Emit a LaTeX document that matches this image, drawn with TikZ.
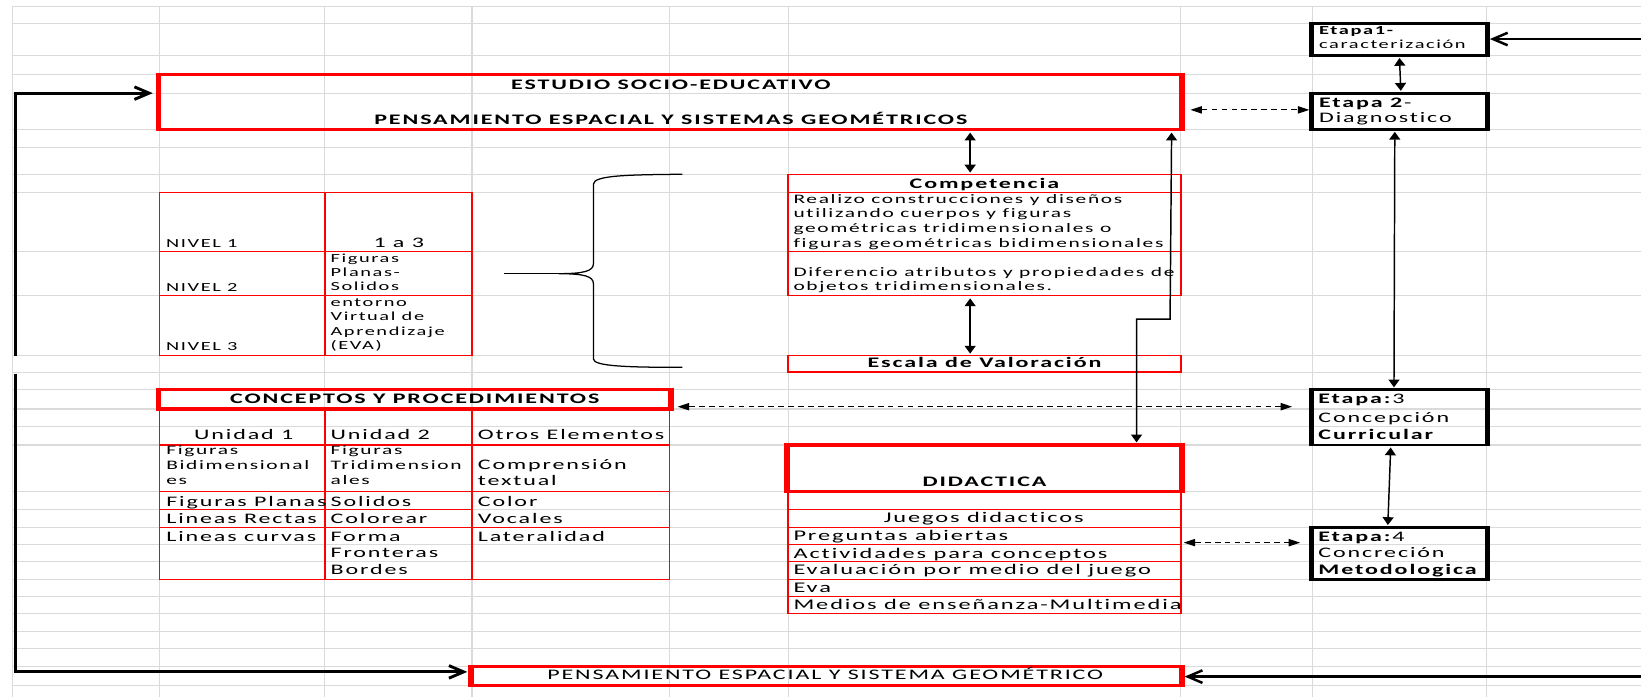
\documentclass[tikz,border=0pt]{standalone}
\usepackage{fontspec}
\setmainfont{Carlito}[FakeStretch=1.65,LetterSpace=13,Ligatures=NoCommon]
\usetikzlibrary{arrows.meta,fit,calc}
\definecolor{sheetgrid}{RGB}{218,218,218}
\definecolor{cellred}{RGB}{255,0,0}

\tikzset{
  gridline/.style={draw=sheetgrid,line width=1pt},
  redthick/.style={draw=cellred,line width=3pt,inner sep=0pt},
  redthin/.style={draw=cellred,line width=1.2pt,inner sep=0pt},
  redrule/.style={draw=cellred,line width=1.2pt},
  stagebox/.style={draw=black,line width=2.7pt,inner sep=0pt},
  lbl/.style={inner sep=0pt,anchor=base west,font=\fontsize{13.9}{16}\selectfont},
  lblc/.style={lbl,anchor=base},
  head/.style={lblc,font=\fontsize{13.9}{16}\selectfont\bfseries},
  comp/.style={lbl,font=\fontsize{12.4}{14}\selectfont},
  lvl/.style={lbl,font=\fontsize{11.8}{14}\selectfont},
  item/.style={lbl,font=\fontsize{14.1}{17}\selectfont},
  biarrow/.style={{Triangle[length=7.5pt,width=10.5pt]}-{Triangle[length=7.5pt,width=10.5pt]},
    line width=1.4pt,shorten <=1pt,shorten >=1pt},
  dasharrow/.style={{Triangle[length=11pt,width=7pt]}-{Triangle[length=11pt,width=7pt]},
    line width=1.1pt,dash pattern=on 5.5pt off 4pt},
  heavyarrow/.style={-{Straight Barb[length=14pt,width=12pt]},line width=2.8pt},
  bracepen/.style={line width=1.2pt}
}

\begin{document}
\begin{tikzpicture}[x=1pt,y=-1pt]
\useasboundingbox (0,0) rectangle (1568,666);

% spreadsheet grid
\foreach \gx in {12,152.5,310.5,451,640,753,1128.4,1254,1420.7}
  \draw[gridline] (\gx,6) -- (\gx,666);
\foreach \gy in {6,22.7,53,70.8,89.1,123.6,140.6,166.5,183.7,240,282,339.5,355.5,
                 372.5,390.8,407.8,425.2,469.5,486.5,504,520.2,536.6,553.7,570,586,
                 603,620,637,654.6}
  \draw[gridline] (12,\gy) -- (1568,\gy);

% ---------- main red boxes ----------
\node[redthick,fit={(152.5,70.8) (1128.4,123.6)}] (estudio) {};
\node[redthick,fit={(152.5,372.5) (640,390.8)}] (conceptos) {};
\node[redthick,fit={(753,425.2) (1128.4,469.5)}] (didactica) {};
\node[redthick,fit={(451,637) (1128.4,654.6)}] (cierre) {};
\foreach \bx in {estudio,conceptos,didactica,cierre}
  \draw[draw=cellred,line width=4.2pt] (\bx.north west) -- (\bx.south west)
                                       (\bx.north east) -- (\bx.south east);

% competence column
\node[redthin,fit={(753,166.5) (1128.4,183.7)}] (comphead) {};
\node[redthin,fit={(753,183.7) (1128.4,240)}] (comptext) {};
\node[redthin,fit={(753,240) (1128.4,282)}] (compdif) {};
\node[redthin,fit={(753,339.5) (1128.4,355.5)}] (escala) {};

% level table
\node[redthin,fit={(152.5,183.7) (451,339.5)}] (niveles) {};
\draw[redrule] (310.5,183.7) -- (310.5,339.5)
               (152.5,240) -- (451,240) (152.5,282) -- (451,282);

% concepts table
\node[redthin,fit={(152.5,390.8) (640,553.7)}] (ctabla) {};
\draw[redrule] (310.5,390.8) -- (310.5,553.7) (451,390.8) -- (451,553.7)
               (152.5,425.2) -- (640,425.2) (152.5,469.5) -- (640,469.5)
               (152.5,486.5) -- (451,486.5) (152.5,504) -- (640,504);

% didactic list
\node[redthin,fit={(753,469.5) (1128.4,586)}] (dlist) {};
\foreach \ry in {486.5,504,520.2,536.6,553.7,570}
  \draw[redrule] (753,\ry) -- (1128.4,\ry);

% stage boxes
\node[stagebox,fit={(1254,22.7) (1420.7,53)}] (etapa1) {};
\node[stagebox,fit={(1254,89.1) (1420.7,123.6)}] (etapa2) {};
\node[stagebox,fit={(1254,372.5) (1420.7,425.2)}] (etapa3) {};
\node[stagebox,fit={(1254,504) (1420.7,553.7)}] (etapa4) {};
\foreach \bx in {etapa1,etapa2,etapa3,etapa4}
  \draw[line width=4.2pt] (\bx.north west) -- (\bx.south west)
                          (\bx.north east) -- (\bx.south east);

% ---------- texts ----------
\node[head] (est1) at (641,85.4) {ESTUDIO SOCIO-EDUCATIVO};
\node[head] (est2) at (641,119.4) {PENSAMIENTO ESPACIAL Y SISTEMAS GEOMÉTRICOS};

\node[lvl,font=\fontsize{11.8}{14}\selectfont\bfseries] (e1a) at (1260.3,33.4) {Etapa1-};
\node[lvl] (e1b) at (1260.3,46.8) {caracterización};
\node[lbl] (e2a) at (1260.3,102.5) {\textbf{Etapa 2}-};
\node[lbl] (e2b) at (1260.3,117.4) {Diagnostico};
\node[lbl] (e3a) at (1259.6,385.4) {\textbf{Etapa:}3};
\node[lbl] (e3b) at (1259.6,404) {Concepción};
\node[lbl] (e3c) at (1259.6,420.4) {\textbf{Curricular}};
\node[lbl] (e4a) at (1259.6,517) {\textbf{Etapa:}4};
\node[lbl] (e4b) at (1259.6,532.8) {Concreción};
\node[lbl] (e4c) at (1259.6,548.8) {\textbf{Metodologica}};

\node[head] (comptit) at (940.7,180) {Competencia};
\node[comp] (c1) at (758,194) {Realizo construcciones y diseños};
\node[comp] (c2) at (758,208.2) {utilizando cuerpos y figuras};
\node[comp] (c3) at (758,222.3) {geométricas tridimensionales o};
\node[comp] (c4) at (758,236.4) {figuras geométricas bidimensionales};
\node[comp] (c5) at (758,264.4) {Diferencio atributos y propiedades de};
\node[comp] (c6) at (758,277.7) {objetos tridimensionales.};
\node[head] (esctit) at (940.7,351.3) {Escala de Valoración};

\node[lvl] (n1) at (158.6,236.3) {NIVEL 1};
\node[lblc] (n1r) at (381,236.3) {1 a 3};
\node[lvl] (n2) at (158.6,278.3) {NIVEL 2};
\node[lvl] (n2r1) at (315.7,250.6) {Figuras};
\node[lvl] (n2r2) at (315.7,264.5) {Planas-};
\node[lvl] (n2r3) at (315.7,277.7) {Solidos};
\node[lvl] (n3) at (158.6,335) {NIVEL 3};
\node[lvl] (n3r1) at (315.7,292.5) {entorno};
\node[lvl] (n3r2) at (315.7,306.5) {Virtual de};
\node[lvl] (n3r3) at (315.7,320.5) {Aprendizaje};
\node[lvl] (n3r4) at (315.7,334.4) {(EVA)};

\node[head] (contit) at (396.3,386) {CONCEPTOS Y PROCEDIMIENTOS};
\node[lblc] (u1) at (232.9,420.4) {Unidad 1};
\node[lbl] (u2) at (315.7,420.4) {Unidad 2};
\node[lbl] (u3) at (456.4,420.4) {Otros Elementos};
\node[comp] (a1) at (158.7,434.7) {Figuras};
\node[comp] (a2) at (158.7,449) {Bidimensional};
\node[comp] (a3) at (158.7,463) {es};
\node[comp] (b1) at (315.7,434.7) {Figuras};
\node[comp] (b2) at (315.7,449) {Tridimension};
\node[comp] (b3) at (315.7,463) {ales};
\node[lbl] (x1) at (456.4,448.4) {Comprensión};
\node[lbl] (x2) at (456.4,464) {textual};
\node[lbl] (a4) at (158.7,483.5) {Figuras Planas};
\node[lbl] (b4) at (315.7,483.5) {Solidos};
\node[lbl] (x4) at (456.4,483.5) {Color};
\node[lbl] (a5) at (158.7,500) {Lineas Rectas};
\node[lbl] (b5) at (315.7,500) {Colorear};
\node[lbl] (x5) at (456.4,500) {Vocales};
\node[lbl] (a6) at (158.7,517) {Lineas curvas};
\node[lbl] (b6) at (315.7,517) {Forma};
\node[lbl] (x6) at (456.4,517) {Lateralidad};
\node[lbl] (b7) at (315.7,533) {Fronteras};
\node[lbl] (b8) at (315.7,549.4) {Bordes};

\node[head] (didtit) at (940.7,465) {DIDACTICA};
\node[item,anchor=base] (d1) at (940,499.4) {Juegos didacticos};
\node[item] (d2) at (758,516.6) {Preguntas abiertas};
\node[item] (d3) at (758,533.2) {Actividades para conceptos};
\node[item] (d4) at (758,549.4) {Evaluación por medio del juego};
\node[item] (d5) at (758,566.3) {Eva};
\node[item] (d6) at (758,582.8) {Medios de enseñanza-Multimedia};

\node[lblc] (cierretxt) at (788.5,649.7) {PENSAMIENTO ESPACIAL Y SISTEMA GEOMÉTRICO};

% ---------- brace gathering the levels ----------
\draw[bracepen] (652,166.5) .. controls (600,167) and (567,167.5) .. (567,176)
  -- (567,252) .. controls (567,259) and (558,261.5) .. (534,261.5)
  .. controls (558,261.5) and (567,264) .. (567,271)
  -- (567,343) .. controls (567,350) and (600,351) .. (652,351);
\draw[bracepen] (482,261.5) -- (534,261.5);

% ---------- connectors ----------
\draw[biarrow] ($(etapa1.south)+(-0.2,0)$) -- ($(etapa2.north)+(1.2,0)$);
\draw[biarrow] ($(etapa2.south)+(-4.6,0)$) -- ($(etapa3.north)+(-5.4,0)$);
\draw[biarrow] ($(etapa3.south)+(-8.5,0)$) -- ($(etapa4.north)+(-11.3,0)$);

\draw[biarrow,shorten <=1.6pt] ($(estudio.south -| comphead.north)+(-13.7,0)$)
  -- ($(comphead.north)+(-13.7,0)$);
\draw[biarrow] ($(compdif.south)+(-13.7,1.5)$) -- ($(escala.north)+(-13.7,0)$);

\coordinate (jogA) at (1118,305);
\coordinate (jogB) at (1086,305);
\draw[biarrow,shorten <=1.6pt] ($(estudio.south east)+(-10.4,0)$) -- (jogA) -- (jogB)
  -- (jogB |- didactica.north);

\draw[dasharrow] ($(estudio.east)+(7.6,7.8)$) -- ($(etapa2.west)+(-1.6,-1.35)$);
\draw[dasharrow] ($(conceptos.east)+(6,6.95)$) -- ($(etapa3.west)+(-18,-10.25)$);
\draw[dasharrow] ($(dlist.east)+(2,-9.25)$) -- ($(etapa4.west)+(-10.3,-10.35)$);

\coordinate (rTop) at (1568,37.3);
\draw[heavyarrow,line width=2.4pt,shorten >=1.5pt] (rTop) -- (rTop -| etapa1.east);
\coordinate (rBot) at (1568,646.5);
\draw[heavyarrow,line width=2.4pt,shorten >=2pt] (rBot) -- (rBot -| cierre.east);

\coordinate (lTopA) at (15,340);
\coordinate (lTopB) at (15,89);
\draw[heavyarrow,shorten >=5pt] (lTopA) -- (lTopB) -- (lTopB -| estudio.west);
\coordinate (lBotA) at (15,357);
\coordinate (lBotB) at (15,642);
\draw[heavyarrow,shorten >=3pt] (lBotA) -- (lBotB) -- (lBotB -| cierre.west);
\end{tikzpicture}
\end{document}
